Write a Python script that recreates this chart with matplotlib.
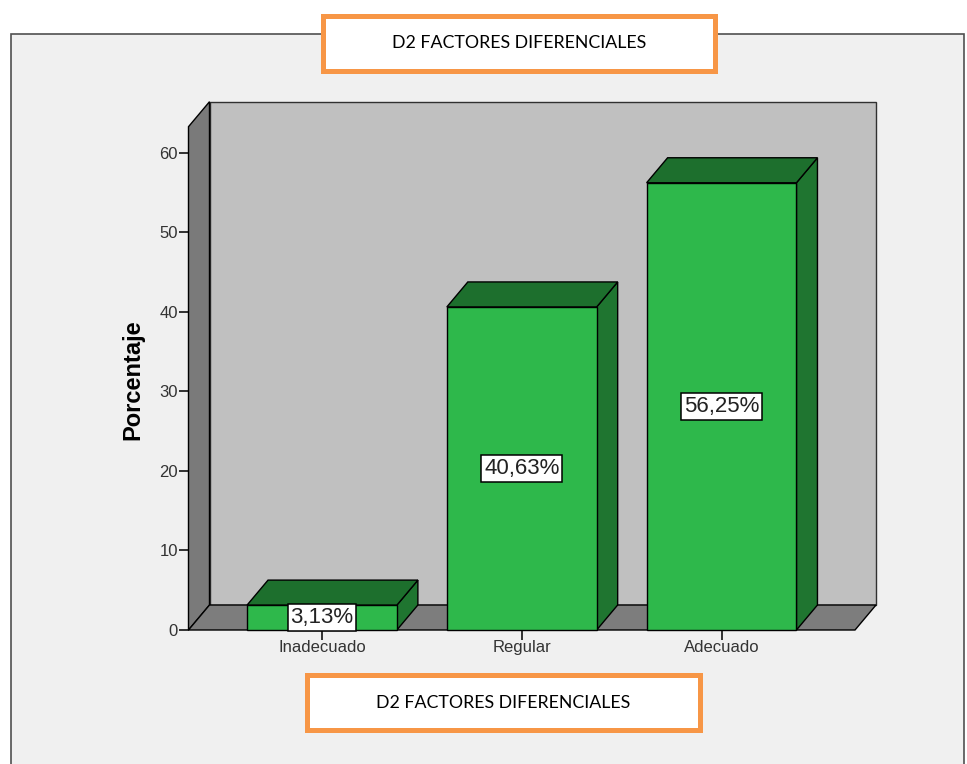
import matplotlib
matplotlib.use("Agg")
from matplotlib import pyplot as plt
from matplotlib.patches import Polygon, Rectangle
import numpy as np

categories = ["Inadecuado", "Regular", "Adecuado"]
porcentajes = [3.13, 40.63, 56.25]
etiquetas = ["3,13%", "40,63%", "56,25%"]
y_ticks = [0, 10, 20, 30, 40, 50, 60]
titulo = "D2 FACTORES DIFERENCIALES"

W, H = 967, 764
fig = plt.figure(figsize=(W / 100, H / 100), dpi=100, facecolor="white")


def fx(px):
    return px / W


def fy(py):
    return 1 - py / H


# outer gray panel with frame
fig.patches.append(Rectangle((fx(10.5), -0.05), fx(953), fy(33.5) + 0.05,
                             transform=fig.transFigure, facecolor="#f0f0f0",
                             edgecolor="#505050", lw=1.2, zorder=-10))

# front plane of the 3d box: x 188 -> 855 px, y 630 (0) -> 127 px (top)
ax = fig.add_axes([fx(188.5), fy(630), fx(855 - 188.5), (630 - 126.7) / H])
ax.set_zorder(1)
ymax = 63.3
xmin, xmax = -0.668, 2.668
ax.set_xlim(xmin, xmax)
ax.set_ylim(0, ymax)
ax.set_facecolor("none")
for s in ax.spines.values():
    s.set_visible(False)

# depth offset (21 px right, 25 px up) in data units
px_x = (xmax - xmin) / (855 - 188.5)
px_y = ymax / (630 - 126.7)
ox, oy = 21 * px_x, 25 * px_y

edge = "black"
lw = 1.0

# back wall, left wall, floor
ax.add_patch(Polygon([(xmin + ox, oy), (xmax + ox, oy), (xmax + ox, ymax + oy), (xmin + ox, ymax + oy)],
                     facecolor="#c0c0c0", edgecolor="#303030", lw=lw, clip_on=False, zorder=1))
ax.add_patch(Polygon([(xmin, 0), (xmin + ox, oy), (xmin + ox, ymax + oy), (xmin, ymax)],
                     facecolor="#7a7a7a", edgecolor=edge, lw=lw, clip_on=False, zorder=2))
ax.add_patch(Polygon([(xmin, 0), (xmax, 0), (xmax + ox, oy), (xmin + ox, oy)],
                     facecolor="#7d7d7d", edgecolor=edge, lw=lw, clip_on=False, zorder=2))

# bars
bw = 0.75
x = np.arange(len(categories))
for i, v in enumerate(porcentajes):
    l, r = x[i] - bw / 2, x[i] + bw / 2
    ax.add_patch(Polygon([(r, 0), (r + ox, oy), (r + ox, v + oy), (r, v)],
                         facecolor="#1f7530", edgecolor=edge, lw=lw, clip_on=False, zorder=3))
    ax.add_patch(Polygon([(l, v), (r, v), (r + ox, v + oy), (l + ox, v + oy)],
                         facecolor="#1d6f2d", edgecolor=edge, lw=lw, clip_on=False, zorder=3))
    ax.add_patch(Rectangle((l, 0), bw, v, facecolor="#2eb84b", edgecolor=edge,
                           lw=lw, clip_on=False, zorder=4))
    ax.text(x[i], v / 2, etiquetas[i], ha="center", va="center", fontsize=16,
            family="Liberation Sans", color="#222222", zorder=6,
            bbox=dict(boxstyle="square,pad=0.12", facecolor="white", edgecolor="black", lw=1.1))

ax.set_yticks(y_ticks)
ax.set_yticklabels([str(t) for t in y_ticks], family="Liberation Sans", fontsize=12, color="#333333")
ax.set_xticks(x)
ax.set_xticklabels(categories, family="Liberation Sans", fontsize=12, color="#333333")
ax.tick_params(axis="y", length=7, width=1.3, color="#222222", pad=0.5)
ax.tick_params(axis="x", length=7, width=1.3, color="#222222", pad=0.5)

fig.text(fx(132.5), fy(380), "Porcentaje", rotation=90, ha="center", va="center",
         family="Liberation Sans", fontsize=17, fontweight="bold", color="black")

# orange title boxes
for (x0, y0, x1, y1) in [(323, 16, 715, 71), (307, 675, 700, 730)]:
    fig.patches.append(Rectangle((fx(x0), fy(y1)), fx(x1 - x0), (y1 - y0) / H,
                                 transform=fig.transFigure, facecolor="white",
                                 edgecolor="#f79646", lw=3.6, zorder=5))
    fig.text(fx((x0 + x1) / 2), fy((y0 + y1) / 2), titulo, ha="center", va="center",
             fontsize=12.8, family="Lato", color="black", zorder=6)

fig.savefig("out.png", dpi=100)
